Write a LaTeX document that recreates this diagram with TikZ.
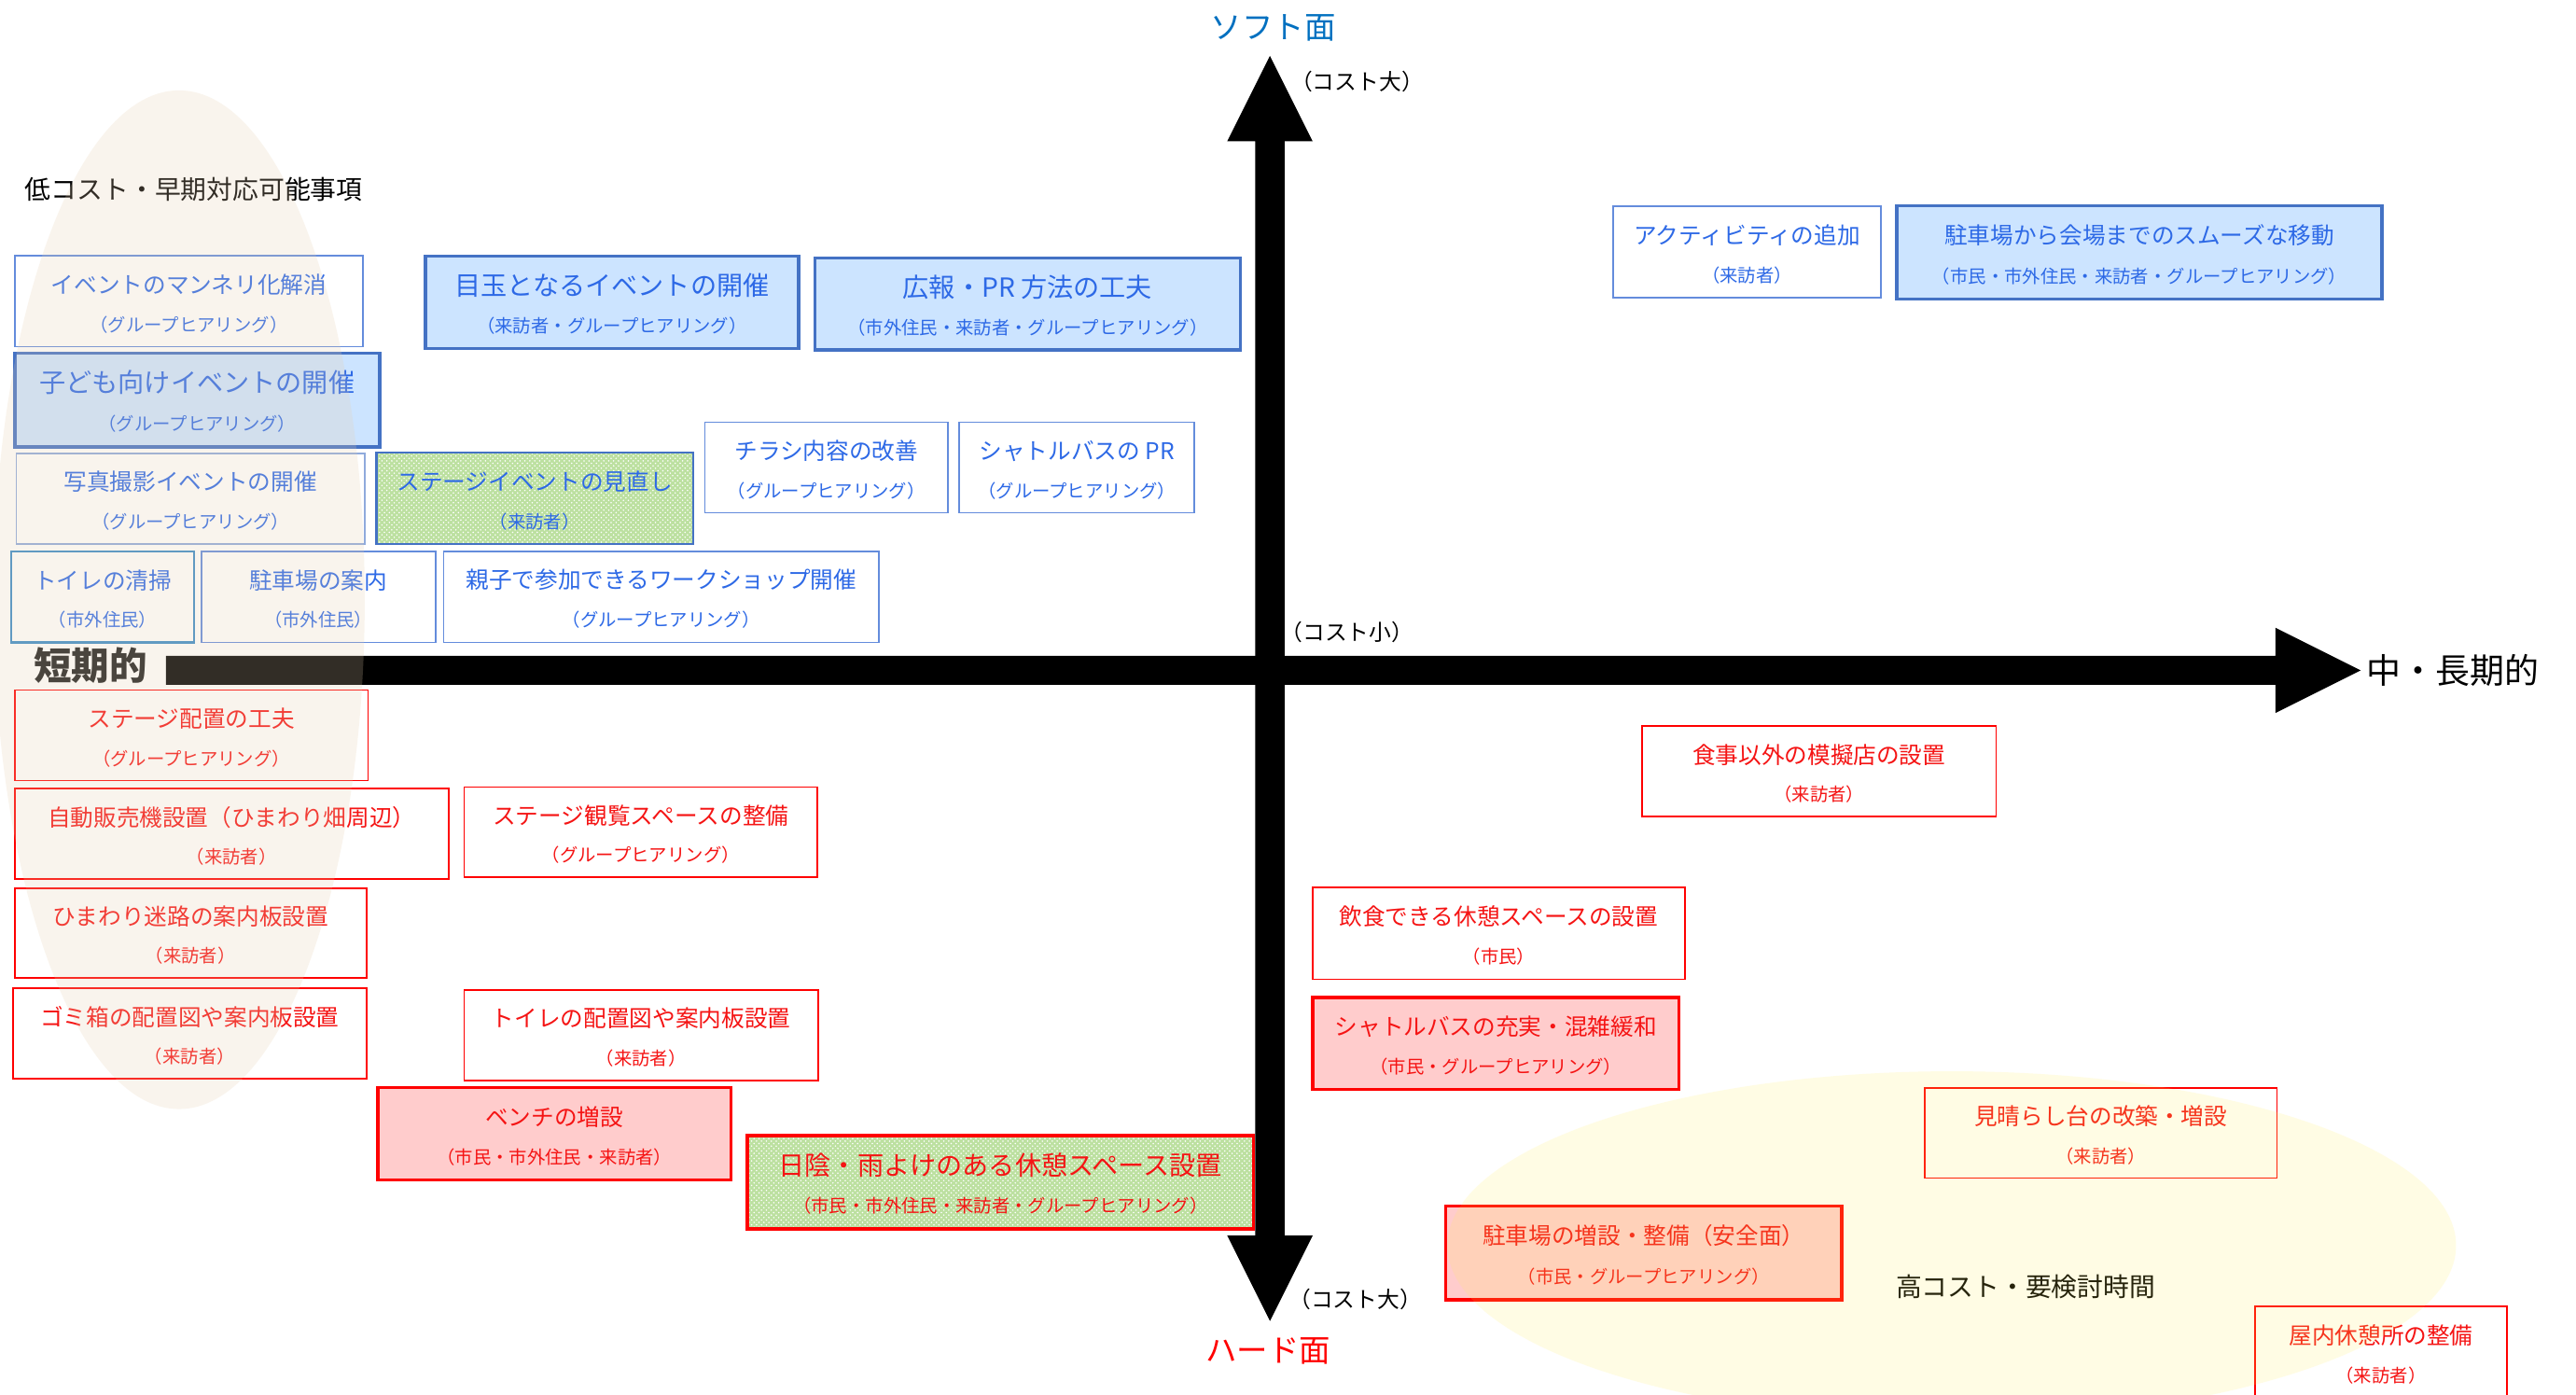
\documentclass[tikz,border=0pt]{standalone}
\usepackage{fontspec}
\setmainfont{Noto Sans CJK JP}
\usetikzlibrary{patterns}
\definecolor{tblue}{RGB}{45,105,230}
\definecolor{tred}{RGB}{245,20,20}
\definecolor{bthinc}{RGB}{100,140,220}
\definecolor{bpale}{RGB}{143,170,220}
\definecolor{tealc}{RGB}{60,140,200}
\definecolor{bthickc}{RGB}{68,114,196}
\definecolor{bfill}{RGB}{204,228,255}
\definecolor{pfill}{RGB}{255,204,204}
\definecolor{gfill}{RGB}{188,224,160}
\definecolor{softc}{RGB}{0,112,192}
\definecolor{beigec}{RGB}{232,208,176}
\definecolor{yelc}{RGB}{255,240,80}
\definecolor{darkc}{RGB}{30,30,30}
\tikzset{
 box/.style={rectangle, inner sep=0pt, outer sep=0pt},
 bthin/.style={box, draw=bthinc, line width=1pt, fill=white},
 bpalebox/.style={box, draw=bpale, line width=1pt, fill=white},
 btealbox/.style={box, draw=tealc, line width=1.2pt, fill=white},
 bthick/.style={box, draw=bthickc, line width=2pt, fill=bfill},
 bgreen/.style={box, draw=bthickc, line width=1.5pt, preaction={fill=gfill}, pattern=crosshatch dots, pattern color=white},
 rthin/.style={box, draw=red, line width=1pt, fill=white},
 rthick/.style={box, draw=red, line width=2pt, fill=pfill},
 rgreen/.style={box, draw=red, line width=2pt, preaction={fill=gfill}, pattern=crosshatch dots, pattern color=white},
 ttl/.style={inner sep=0pt, font=\fontsize{14}{16}\selectfont},
 subt/.style={inner sep=0pt, font=\fontsize{11}{13}\selectfont},
 axlabel/.style={inner sep=0pt, font=\fontsize{13.5}{15}\selectfont},
 biglabel/.style={inner sep=0pt, font=\fontsize{19}{21}\selectfont},
 arealabel/.style={inner sep=0pt, font=\fontsize{15.8}{17}\selectfont},
}
% #1 name, #2 style, #3 text colour, #4 x1, #5 y1, #6 x2, #7 y2, #8 title, #9 sub
\newcommand\mybox[9]{%
 \node[#2, minimum width={#6-#4}, minimum height={#7-#5}] (#1) at ({(#4+#6)/2},{(#5+#7)/2}) {};
 \node[ttl, text=#3] (#1t) at ({(#4+#6)/2},{#5+0.315*(#7-#5)}) {#8};
 \node[subt, text=#3] (#1s) at ({(#4+#6)/2},{#5+0.755*(#7-#5)}) {#9};
}
\newcommand\bigt{\fontsize{16}{18}\selectfont}
\begin{document}
\begin{tikzpicture}[x=1pt,y=-1pt]
\clip (0,0) rectangle (1568,849);
\fill[white] (0,0) rectangle (1568,849);

% soft side boxes
\mybox{b1}{bthin}{tblue}{9}{155.6}{221}{211}{イベントのマンネリ化解消}{（グループヒアリング）}
\mybox{b2}{bthick}{tblue}{259}{156}{486}{212}{\bigt 目玉となるイベントの開催}{（来訪者・グループヒアリング）}
\mybox{b3}{bthick}{tblue}{496}{157}{755}{213}{\bigt 広報・PR 方法の工夫}{（市外住民・来訪者・グループヒアリング）}
\mybox{b4}{bthick}{tblue}{9}{215}{231}{272}{\bigt 子ども向けイベントの開催}{（グループヒアリング）}
\mybox{b5}{bpalebox}{tblue}{10}{276}{222}{331}{写真撮影イベントの開催}{（グループヒアリング）}
\mybox{b6}{bgreen}{tblue}{229}{275.5}{422}{331}{ステージイベントの見直し}{（来訪者）}
\mybox{b7}{bthin}{tblue}{429}{257}{577}{312}{チラシ内容の改善}{（グループヒアリング）}
\mybox{b8}{bthin}{tblue}{584}{257}{727}{312}{シャトルバスの PR}{（グループヒアリング）}
\mybox{b9}{btealbox}{tblue}{7}{335.6}{118}{391}{トイレの清掃}{（市外住民）}
\mybox{b10}{bthin}{tblue}{122.5}{335.6}{265}{391}{駐車場の案内}{（市外住民）}
\mybox{b11}{bthin}{tblue}{270}{335.6}{535}{391}{親子で参加できるワークショップ開催}{（グループヒアリング）}
\mybox{b12}{bthin}{tblue}{982}{125.5}{1145}{181}{アクティビティの追加}{（来訪者）}
\mybox{b13}{bthick}{tblue}{1154.5}{125.3}{1450}{182}{駐車場から会場までのスムーズな移動}{（市民・市外住民・来訪者・グループヒアリング）}

% hard side boxes
\mybox{r1}{rthin}{tred}{9}{420}{224}{475}{ステージ配置の工夫}{（グループヒアリング）}
\mybox{r2}{rthin}{tred}{9}{480}{273}{535}{自動販売機設置（ひまわり畑周辺）}{（来訪者）}
\mybox{r3}{rthin}{tred}{282.5}{479}{497.6}{534}{ステージ観覧スペースの整備}{（グループヒアリング）}
\mybox{r4}{rthin}{tred}{9}{540.5}{223}{595}{ひまわり迷路の案内板設置}{（来訪者）}
\mybox{r5}{rthin}{tred}{8}{601.5}{223}{656.5}{ゴミ箱の配置図や案内板設置}{（来訪者）}
\mybox{r6}{rthin}{tred}{282.5}{602.5}{498}{657.5}{トイレの配置図や案内板設置}{（来訪者）}
\mybox{r7}{rthick}{tred}{230}{662}{445}{718}{ベンチの増設}{（市民・市外住民・来訪者）}
\mybox{r8}{rgreen}{tred}{455}{691}{763}{748}{\bigt 日陰・雨よけのある休憩スペース設置}{（市民・市外住民・来訪者・グループヒアリング）}
\mybox{r9}{rthin}{tred}{999.5}{442}{1215}{497}{食事以外の模擬店の設置}{（来訪者）}
\mybox{r10}{rthin}{tred}{799}{540}{1025.6}{596}{飲食できる休憩スペースの設置}{（市民）}
\mybox{r11}{rthick}{tred}{799}{607}{1022}{663}{シャトルバスの充実・混雑緩和}{（市民・グループヒアリング）}
\mybox{r12}{rthin}{tred}{1171.5}{662}{1386}{717}{見晴らし台の改築・増設}{（来訪者）}
\mybox{r13}{rthick}{tred}{880}{734}{1121}{791}{駐車場の増設・整備（安全面）}{（市民・グループヒアリング）}
\mybox{r14}{rthin}{tred}{1372.6}{795}{1526}{851}{屋内休憩所の整備}{（来訪者）}

% axes
\coordinate (O) at (773,408);
\fill[black] (764,86) -- (747,86) -- (773,34) -- (799,86) -- (782,86) -- (782,752)
  -- (799,752) -- (773,804) -- (747,752) -- (764,752) -- cycle;
\fill[black] (101,399.2) -- (1385,399.2) -- (1385,382) -- (1437,408) -- (1385,434)
  -- (1385,416.8) -- (101,416.8) -- cycle;

% axis labels
\node[biglabel, text=softc] (soft) at (775,17) {ソフト面};
\node[biglabel, text=red] (hard) at (772,822.5) {ハード面};
\node[axlabel] (costtop) at (826,49.5) {（コスト大）};
\node[axlabel] (costmid) at (820,384.5) {（コスト小）};
\node[axlabel] (costbot) at (825,790.5) {（コスト大）};
\node[inner sep=0pt, font=\fontsize{23}{25}\selectfont\bfseries, text=darkc] (short) at (55,405) {短期的};
\node[inner sep=0pt, font=\fontsize{21}{23}\selectfont] (long) at (1493,408) {中・長期的};
\node[arealabel] (lowcost) at (118,115) {低コスト・早期対応可能事項};
\node[arealabel] (highcost) at (1233,783) {高コスト・要検討時間};

% translucent areas on top
\fill[beigec, fill opacity=0.22] (109,365) ellipse [x radius=113pt, y radius=310pt];
\fill[yelc, fill opacity=0.15] (1188,758) ellipse [x radius=307pt, y radius=106pt];
\end{tikzpicture}
\end{document}
